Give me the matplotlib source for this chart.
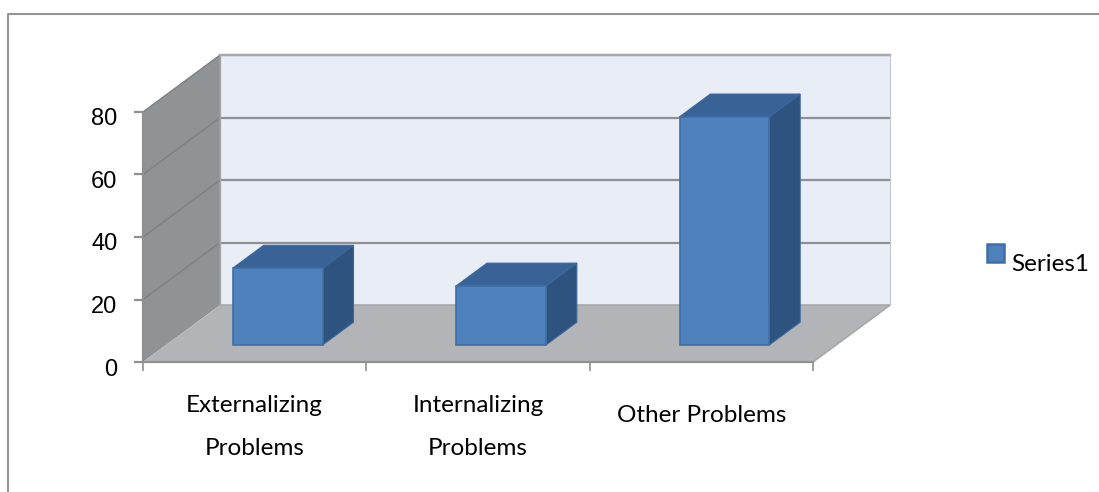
import matplotlib
matplotlib.use("Agg")
from matplotlib import pyplot as plt
from matplotlib.lines import Line2D
from matplotlib.patches import Patch, Polygon
from matplotlib.transforms import ScaledTranslation

categories = ["Externalizing\nProblems", "Internalizing\nProblems", "Other Problems"]
values = [24.6, 18.9, 73]
yticks = [0, 20, 40, 60, 80]
series_name = "Series1"

W, H = 1099, 492
AX_L, AX_R, AX_TOP, AX_BOT = 143, 813, 112, 362

# depth of the fake 3d box, in data units
DX = 0.345
DY = 18.2
# where a bar sits inside that depth
BAR_START = 0.30
BAR_DEPTH = 0.40
BAR_W = 0.402

GRID = "#8e9093"

plt.rcParams["font.family"] = ["Lato", "DejaVu Sans"]

fig = plt.figure(figsize=(W / 100, H / 100), dpi=100)
ax = fig.add_axes([AX_L / W, 1 - AX_BOT / H, (AX_R - AX_L) / W, (AX_BOT - AX_TOP) / H])
ax.set_xlim(0, 3)
ax.set_ylim(0, 80)
ax.patch.set_visible(False)


def poly(points, color, z, edge=None, lw=0):
    ax.add_patch(Polygon(points, closed=True, facecolor=color, edgecolor=edge or color,
                         linewidth=lw, zorder=z, clip_on=False))


def line(xs, ys, color=GRID, lw=1.6, z=2):
    ax.add_line(Line2D(xs, ys, color=color, linewidth=lw, zorder=z, clip_on=False))


# walls and floor
poly([(DX, 0 + DY), (3 + DX, 0 + DY), (3 + DX, 80 + DY), (DX, 80 + DY)], "#e9edf6", 1)
poly([(0, 0), (DX, DY), (DX, 80 + DY), (0, 80)], "#909396", 1)
poly([(0, 0), (3, 0), (3 + DX, DY), (DX, DY)], "#b2b4b7", 1)

for v in yticks[1:]:
    line([0, DX], [v, v + DY], color="#808285", lw=1.1)
    line([DX, 3 + DX], [v + DY, v + DY])
line([DX, 3 + DX], [80 + DY, 80 + DY], color="#a6a8ab", lw=1.6)
line([DX, 3 + DX], [DY, DY], color="#a6a8ab", lw=1.2)
line([3, 3 + DX], [0, DY], color="#a6a8ab", lw=1.2)
line([3 + DX, 3 + DX], [DY, 80 + DY], color="#c4c7cc", lw=0.8)
line([DX, DX], [DY, 80 + DY], color="#a6a8ab", lw=1)

# bars
for i, v in enumerate(values):
    x0 = i + 0.5 - BAR_W / 2 + BAR_START * DX
    x1 = x0 + BAR_W
    y0 = BAR_START * DY
    y1 = y0 + v
    ddx = BAR_DEPTH * DX
    ddy = BAR_DEPTH * DY
    poly([(x1, y0), (x1 + ddx, y0 + ddy), (x1 + ddx, y1 + ddy), (x1, y1)], "#2f537f", 3, "#3b679c", 0.8)
    poly([(x0, y1), (x1, y1), (x1 + ddx, y1 + ddy), (x0 + ddx, y1 + ddy)], "#396296", 3, "#3b679c", 0.8)
    poly([(x0, y0), (x1, y0), (x1, y1), (x0, y1)], "#4f81bd", 4, "#3f6fa6", 1.2)

# axes
for s in ["top", "right"]:
    ax.spines[s].set_visible(False)
for s in ["left", "bottom"]:
    ax.spines[s].set_color(GRID)
    ax.spines[s].set_linewidth(1.6)
    ax.spines[s].set_zorder(2)

ax.set_yticks(yticks)
ax.tick_params(axis="y", length=6.5, width=1.6, color=GRID, labelsize=17, pad=12, labelcolor="black")
# the value labels sit a bit under their ticks
shift = ScaledTranslation(0, -5 / 100, fig.dpi_scale_trans)
for t in ax.get_yticklabels():
    t.set_family(["Liberation Sans", "DejaVu Sans"])
    t.set_transform(t.get_transform() + shift)

ax.set_xticks([0, 1, 2, 3])
ax.set_xticklabels([])
ax.tick_params(axis="x", which="major", length=6.5, width=1.2, color=GRID)
ax.set_xticks([0.5, 1.5, 2.5], minor=True)
ax.set_xticklabels(categories, minor=True, fontsize=17.5, linespacing=2.25, color="black")
ax.tick_params(axis="x", which="minor", length=0, pad=24)
ax.xaxis.get_minor_ticks()[2].set_pad(31)

# legend
leg = ax.legend(handles=[Patch(facecolor="#4f81bd", edgecolor="#3f6fa6", linewidth=1.8, label=series_name)],
                loc="center left", bbox_to_anchor=(987 / W, 1 - 255 / H), bbox_transform=fig.transFigure,
                frameon=False, fontsize=17.5, handlelength=0.7, handleheight=0.7, handletextpad=0.3,
                borderpad=0, borderaxespad=0)
leg.get_texts()[0].set_y(-9)

# outer chart frame, only top and left are in the crop
fig.add_artist(Line2D([8 / W, 8 / W, 1], [0, 1 - 14 / H, 1 - 14 / H], color="#949494", linewidth=1.5))

fig.savefig("out.png", dpi=100)
